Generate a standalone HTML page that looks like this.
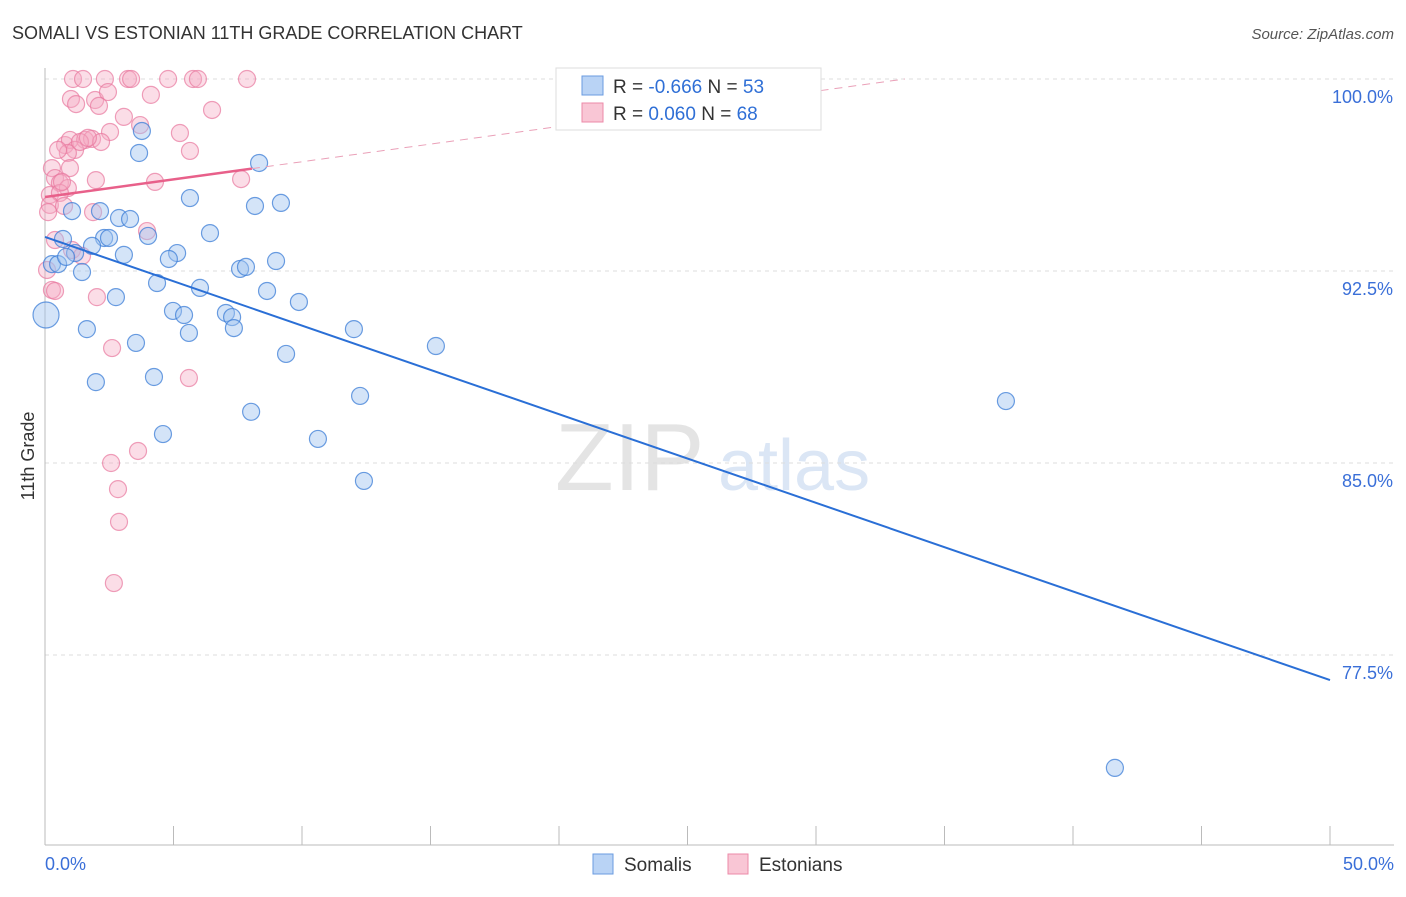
<!DOCTYPE html>
<html><head><meta charset="utf-8"><style>
body{margin:0;background:#fff;font-family:"Liberation Sans",sans-serif;}
svg text{font-family:"Liberation Sans",sans-serif;}
</style></head><body>
<svg id="c" width="1406" height="892" viewBox="0 0 1406 892">
<text x="12" y="39" font-size="18" fill="#333">SOMALI VS ESTONIAN 11TH GRADE CORRELATION CHART</text>
<text x="1394" y="39" font-size="15" fill="#555" text-anchor="end" font-style="italic">Source: ZipAtlas.com</text>
<text transform="translate(34,456) rotate(-90)" font-size="18" fill="#333" text-anchor="middle">11th Grade</text>
<g><text x="555" y="490" font-size="96" fill="#e4e4e4" font-family="Liberation Serif,serif">ZIP</text><text x="718" y="490" font-size="72" fill="#dbe6f5">atlas</text></g>
<g id="grid"></g><g id="axes"></g><g id="pts"></g><g id="trend"></g>
<g>
<rect x="556" y="68" width="265" height="62" fill="#fff" stroke="#ddd"/>
<rect x="582" y="76" width="21" height="19" fill="#b9d3f5" stroke="#6a9be0"/>
<rect x="582" y="103" width="21" height="19" fill="#f9c6d5" stroke="#ec8aa8"/>
<text x="613" y="93" font-size="19" fill="#333">R = <tspan fill="#2f6fd6">-0.666</tspan>   N = <tspan fill="#2f6fd6">53</tspan></text>
<text x="613" y="120" font-size="19" fill="#333">R =  <tspan fill="#2f6fd6">0.060</tspan>   N = <tspan fill="#2f6fd6">68</tspan></text>
</g>
<g>
<rect x="593" y="854" width="20" height="20" fill="#b9d3f5" stroke="#6a9be0"/>
<text x="624" y="871" font-size="19" fill="#333">Somalis</text>
<rect x="728" y="854" width="20" height="20" fill="#f9c6d5" stroke="#ec8aa8"/>
<text x="759" y="871" font-size="19" fill="#333">Estonians</text>
</g>
</svg>
<script>
const yTicks=[100,92.5,85,77.5];
const yTickLabels=["100.0%","92.5%","85.0%","77.5%"];
const xTickLabels=["0.0%","50.0%"];
const somaliX=[3.77,3.66,8.33,5.64,8.17,9.18,1.05,2.14,2.88,3.31,6.42,4.01,0.70,2.30,2.49,1.83,1.17,5.14,3.07,4.82,0.27,0.51,1.44,7.59,7.82,8.99,4.36,6.03,8.64,2.76,9.88,4.98,5.41,7.04,7.28,7.35,5.60,1.63,12.02,3.54,15.21,9.38,4.24,1.98,12.26,8.02,4.59,10.62,12.41,37.39,41.63,0.04,0.82];
const somaliY=[97.97,97.11,96.72,95.35,95.04,95.16,94.84,94.84,94.57,94.53,93.98,93.87,93.75,93.79,93.79,93.48,93.20,93.20,93.13,92.97,92.77,92.77,92.46,92.58,92.66,92.89,92.03,91.84,91.72,91.48,91.29,90.94,90.78,90.86,90.70,90.27,90.08,90.23,90.23,89.69,89.57,89.26,88.36,88.16,87.62,87.0,86.13,85.94,84.30,87.42,73.09,90.78,93.05];
const estonianX=[1.09,1.48,2.33,3.23,3.35,4.79,5.76,5.95,7.86,1.01,1.21,1.95,2.45,2.10,4.12,3.07,6.50,2.53,5.25,0.78,0.97,1.56,1.83,2.18,1.17,0.89,5.64,1.36,1.67,0.27,0.39,0.58,0.89,1.98,4.28,7.63,0.19,0.58,0.19,0.74,1.87,3.97,0.39,1.05,1.44,0.08,0.27,0.39,2.02,2.61,5.60,2.57,3.62,2.84,2.88,2.68,0.97,0.66,0.12,0.51,3.70];
const estonianY=[100,100,100,100,100,100,100,100,100,99.22,99.02,99.18,99.49,98.95,99.38,98.52,98.79,97.93,97.89,97.42,97.62,97.62,97.66,97.54,97.23,97.11,97.19,97.54,97.70,96.52,96.13,95.94,95.74,96.05,95.98,96.09,95.47,95.55,95.08,95.04,94.80,94.06,93.71,93.32,93.09,92.54,91.76,91.72,91.48,89.49,88.32,85.0,85.47,83.98,82.70,80.31,96.52,95.98,94.80,97.23,98.20];
const somaliTrend=[93.83,76.52];
const estonianTrend=[95.39,102.28];
const estonianSolidEnd=8.05;
const NS="http://www.w3.org/2000/svg";
const X0=45,X1=1330,YT=79,PX=25.6;
const sx=v=>X0+(X1-X0)*v/50;
const sy=v=>YT+(100-v)*PX;
function mk(t,a,p){const e=document.createElementNS(NS,t);for(const k in a)e.setAttribute(k,a[k]);p.appendChild(e);return e;}
const grid=document.getElementById('grid'),axes=document.getElementById('axes'),pts=document.getElementById('pts'),tr=document.getElementById('trend');
yTicks.forEach((v,i)=>{
const l=mk('line',{x1:X0,x2:1394,y1:sy(v),y2:sy(v),stroke:'#ddd','stroke-dasharray':'4,4'},grid);


const t=mk('text',{x:1393,y:sy(v)+24,'font-size':18,fill:'#3a6fd8','text-anchor':'end'},grid);
t.textContent=yTickLabels[i];


});
const ya=mk('line',{x1:X0,x2:X0,y1:68,y2:845,stroke:'#bbb'},axes);


const xa=mk('line',{x1:X0,x2:1394,y1:845,y2:845,stroke:'#bbb'},axes);


for(let i=0;i<=10;i++){const tk=mk('line',{x1:sx(i*5),x2:sx(i*5),y1:826,y2:845,stroke:'#bbb'},axes);

}
const xl0=mk('text',{x:45,y:870,'font-size':18,fill:'#3a6fd8'},axes);xl0.textContent=xTickLabels[0];


const xl1=mk('text',{x:1394,y:870,'font-size':18,fill:'#3a6fd8','text-anchor':'end'},axes);xl1.textContent=xTickLabels[1];


estonianX.forEach((x,i)=>{const c=mk('circle',{cx:sx(x),cy:sy(estonianY[i]),r:8.5,fill:'rgba(246,170,195,0.4)',stroke:'rgba(232,120,158,0.7)','stroke-width':1.2},pts);

});
somaliX.forEach((x,i)=>{const c=mk('circle',{cx:sx(x),cy:sy(somaliY[i]),r:(i==51?13:8.5),fill:'rgba(160,195,240,0.45)',stroke:'rgba(60,125,215,0.75)','stroke-width':1.2},pts);

});
const bl=mk('line',{x1:sx(0),y1:sy(somaliTrend[0]),x2:sx(50),y2:sy(somaliTrend[1]),stroke:'#2a6fd6','stroke-width':2},tr);


const pe=v=>estonianTrend[0]+(estonianTrend[1]-estonianTrend[0])*v/50;
const ps=mk('line',{x1:sx(0),y1:sy(pe(0)),x2:sx(estonianSolidEnd),y2:sy(pe(estonianSolidEnd)),stroke:'#e8608a','stroke-width':2.5},tr);


const xe=50*(100-estonianTrend[0])/(estonianTrend[1]-estonianTrend[0]);
const pd=mk('line',{x1:sx(estonianSolidEnd),y1:sy(pe(estonianSolidEnd)),x2:sx(xe),y2:sy(100),stroke:'#eaa0b8','stroke-width':1,'stroke-dasharray':'8,6'},tr);


</script>
</body></html>
